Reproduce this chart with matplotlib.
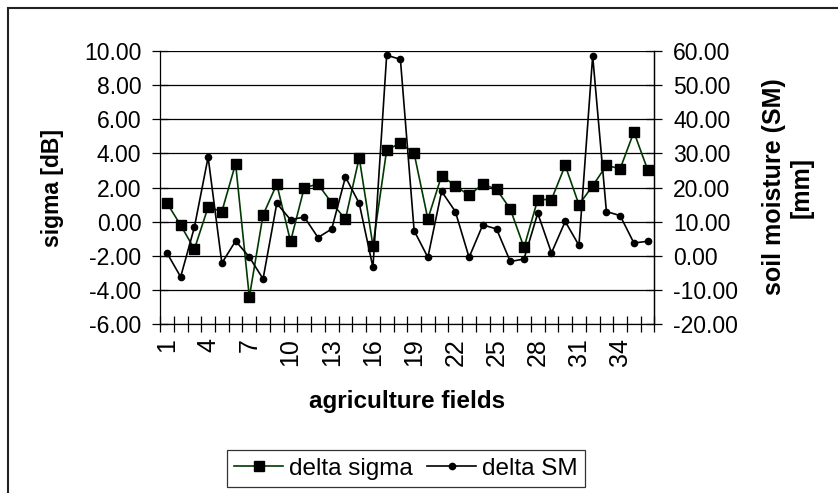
import numpy as np
import matplotlib.pyplot as plt
from matplotlib.patches import Rectangle

plt.rcParams['font.family'] = ['Liberation Sans', 'DejaVu Sans']
plt.rcParams['axes.unicode_minus'] = False

# data
fields = np.arange(1, 37)
delta_sigma = [1.1, -0.2, -1.6, 0.86, 0.6, 3.4, -4.4, 0.4, 2.2, -1.15,
               2.0, 2.2, 1.1, 0.16, 3.75, -1.4, 4.2, 4.6, 4.0, 0.16,
               2.7, 2.1, 1.55, 2.2, 1.9, 0.75, -1.5, 1.3, 1.3, 3.3,
               1.0, 2.1, 3.3, 3.1, 5.25, 3.05]
delta_sm = [0.9, -6.1, 8.4, 28.9, -2.1, 4.4, -0.3, -6.7, 15.4, 10.6,
            11.4, 5.4, 7.9, 23.1, 15.4, -3.3, 58.7, 57.5, 7.4, -0.4,
            18.9, 13.0, -0.4, 9.1, 7.9, -1.6, -0.9, 12.5, 0.9, 10.1,
            3.1, 58.5, 13.0, 11.8, 3.8, 4.3]
sigma_ticks = np.arange(-6, 11, 2)
sm_ticks = np.arange(-20, 61, 10)
label_fields = np.arange(1, 37, 3)

fig = plt.figure(figsize=(8.38, 4.93), dpi=100)
ax = fig.add_axes([0.191, 0.342, 0.590, 0.555])
ax2 = ax.twinx()

# grid on left axis
for v in sigma_ticks:
    ax.axhline(v, color='black', lw=0.9, zorder=0)

ax.plot(fields, delta_sigma, '-s', color='#003a00', lw=1.2,
        marker='s', ms=7, mfc='black', mec='black', label='delta sigma', zorder=3)
ax2.plot(fields, delta_sm, '-o', color='black', lw=1.2,
         ms=4.5, mfc='black', mec='black', label='delta SM', zorder=3)

ax.set_xlim(0.5, 36.5)
ax.set_ylim(-6, 10)
ax2.set_ylim(-20, 60)

ax.set_yticks(sigma_ticks)
ax.set_yticklabels(['%.2f' % v for v in sigma_ticks], fontsize=16.5)
ax2.set_yticks(sm_ticks)
ax2.set_yticklabels(['%.2f' % v for v in sm_ticks], fontsize=16.5)

ax.set_xticks(label_fields)
ax.set_xticklabels([str(v) for v in label_fields], rotation=90, fontsize=18)
ax.set_xticks(np.arange(0.5, 37, 1), minor=True)
ax.tick_params(axis='x', which='major', length=0, pad=10)
ax.tick_params(axis='x', which='minor', direction='inout', length=11, width=0.9)
ax.tick_params(axis='y', direction='inout', length=11, width=0.9, pad=8)
ax2.tick_params(axis='y', direction='inout', length=11, width=0.9, pad=8)

for a in (ax, ax2):
    a.spines['top'].set_visible(False)
    for s in a.spines.values():
        s.set_linewidth(0.9)
ax2.spines['left'].set_visible(False)
ax2.spines['bottom'].set_visible(False)

ax.set_xlabel('agriculture fields', fontsize=17.5, fontweight='bold', labelpad=17)
fig.text(53 / 838, 1 - 188 / 493, 'sigma [dB]', rotation=90, fontsize=16.5,
         fontweight='bold', ha='center', va='center')
fig.text(788 / 838, 1 - 187 / 493, 'soil moisture (SM)\n[mm]', rotation=90,
         fontsize=18, fontweight='bold', ha='center', va='center',
         multialignment='center', linespacing=1.2)

h1, l1 = ax.get_legend_handles_labels()
h2, l2 = ax2.get_legend_handles_labels()
leg = fig.legend(h1 + h2, l1 + l2, loc='center', ncol=2,
                 bbox_to_anchor=(406 / 838, 1 - 468.5 / 493), fontsize=17.5,
                 frameon=True, fancybox=False, edgecolor='black',
                 handlelength=2.0, handletextpad=0.25, columnspacing=0.6,
                 borderpad=0.3)
leg.get_frame().set_linewidth(0.9)

# outer chart border
fig.patches.append(Rectangle((8 / 838, -0.1), 2, 1.1 - 8 / 493, transform=fig.transFigure,
                             fill=False, edgecolor='#222222', lw=1.5))

fig.savefig('out.png', dpi=100)
